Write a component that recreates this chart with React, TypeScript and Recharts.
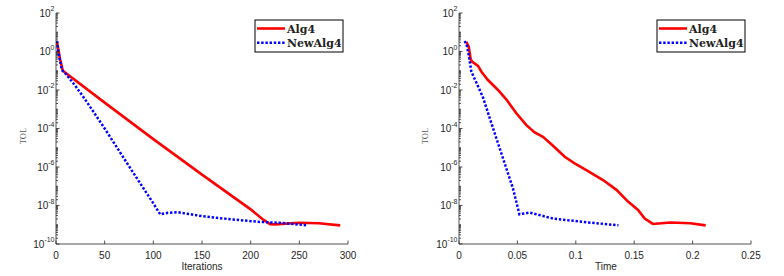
import React from 'react';
import { LineChart, Line, XAxis, YAxis } from 'recharts';

// ---------- data ----------
const iterTicks = [0, 50, 100, 150, 200, 250, 300];
const iterTickLabels = ['0', '50', '100', '150', '200', '250', '300'];
const timeTicks = [0, 0.05, 0.1, 0.15, 0.2, 0.25];
const timeTickLabels = ['0', '0.05', '0.1', '0.15', '0.2', '0.25'];
const tolMajorTicks = [1e-10, 1e-8, 1e-6, 1e-4, 1e-2, 1, 1e2];
const tolMajorExp = ['-10', '-8', '-6', '-4', '-2', '0', '2'];
const seriesNames = ['Alg4', 'NewAlg4'];

const alg4IterX = [1, 4, 7, 50, 100, 150, 200, 212, 220, 225, 250, 270, 292];
const alg4IterTol = [3.2, 0.45, 0.1, 2.2e-3, 2.8e-5, 4.0e-7, 6.3e-9, 2.0e-9, 1.07e-9, 1.05e-9, 1.26e-9, 1.2e-9, 9.3e-10];

const newIterX = [1, 3, 6, 10, 20, 30, 50, 75, 90, 100, 107, 115, 125, 150, 180, 210, 230, 257];
const newIterTol = [3.5, 0.63, 0.11, 0.07, 0.016, 3.2e-3, 1e-4, 1.1e-6, 7.6e-8, 1.3e-8, 3.5e-9, 4.2e-9, 4.5e-9, 2.8e-9, 1.9e-9, 1.4e-9, 1.26e-9, 9.5e-10];

const alg4TimeX = [0.0063, 0.0083, 0.01, 0.0111, 0.0163, 0.0192, 0.0248, 0.0334, 0.0406, 0.0491, 0.0577, 0.0648, 0.0719, 0.0805, 0.0905, 0.099, 0.109, 0.1233, 0.1348, 0.1447, 0.1533, 0.159, 0.166, 0.181, 0.198, 0.2112];
const alg4TimeTol = [3.2, 1.8, 0.4, 0.3, 0.18, 0.089, 0.033, 0.01, 3.2e-3, 6.2e-4, 1.5e-4, 6.3e-5, 3.7e-5, 1.26e-5, 3.4e-6, 1.55e-6, 6.9e-7, 2.1e-7, 6.5e-8, 1.6e-8, 5.9e-9, 2.1e-9, 1.1e-9, 1.3e-9, 1.2e-9, 9.3e-10];

const newTimeX = [0.0049, 0.0068, 0.0083, 0.0106, 0.0149, 0.0205, 0.0277, 0.0334, 0.0391, 0.0462, 0.0517, 0.0605, 0.0805, 0.109, 0.1365];
const newTimeTol = [3.5, 1.95, 0.66, 0.089, 0.024, 4.2e-3, 1.9e-4, 1.7e-5, 1.55e-6, 7.8e-8, 3.5e-9, 4.3e-9, 2.1e-9, 1.35e-9, 9.3e-10];

// ---------- helpers ----------
const zip = (xs: number[], ys: number[]) => xs.map((x, i) => ({ x, y: ys[i] }));

const tolAllTicks: number[] = (() => {
  const out: number[] = [];
  for (let k = -10; k <= 1; k++) {
    for (let m = 1; m <= 9; m++) out.push(Number((m * Math.pow(10, k)).toPrecision(3)));
  }
  out.push(100);
  return out;
})();

const AXIS = '#262626';
const RED = '#ff0000';
const BLUE = '#0000ff';
const SANS = "'Liberation Sans', Arial, Helvetica, sans-serif";
const SERIF = "'Liberation Serif', 'Times New Roman', serif";
const LEGEND_FONT = "'DejaVu Serif', serif";

const majorIndex = (v: number) =>
  tolMajorTicks.findIndex((t) => Math.abs(Math.log10(t) - Math.log10(v)) < 1e-6);

const YTickLeft = (props: any) => {
  const { x, y, payload } = props;
  const idx = majorIndex(payload.value);
  const len = idx >= 0 ? 3.5 : 2;
  return (
    <g>
      <line x1={x} y1={y} x2={x + len} y2={y} stroke={AXIS} strokeWidth={0.8} />
      {idx >= 0 && (
        <text x={x - 1.5} y={y + 3.6} textAnchor="end" fontSize={10} fontFamily={SANS} fill={AXIS}>
          <tspan>10</tspan>
          <tspan dy={-5.5} fontSize={7}>{tolMajorExp[idx]}</tspan>
        </text>
      )}
    </g>
  );
};

const YTickRight = (props: any) => {
  const { x, y, payload } = props;
  const idx = majorIndex(payload.value);
  const len = idx >= 0 ? 3.5 : 2;
  return <line x1={x} y1={y} x2={x - len} y2={y} stroke={AXIS} strokeWidth={0.8} />;
};

const makeXTickBottom = (labels: string[], ticks: number[]) => (props: any) => {
  const { x, y, payload } = props;
  const idx = ticks.findIndex((t) => Math.abs(t - payload.value) < 1e-9);
  return (
    <g>
      <line x1={x} y1={y} x2={x} y2={y - 3.5} stroke={AXIS} strokeWidth={0.8} />
      <text x={x} y={y + 14.6} textAnchor="middle" fontSize={10} fontFamily={SANS} fill={AXIS}>
        {idx >= 0 ? labels[idx] : ''}
      </text>
    </g>
  );
};

const XTickTop = (props: any) => {
  const { x, y } = props;
  return <line x1={x} y1={y} x2={x} y2={y + 3.5} stroke={AXIS} strokeWidth={0.8} />;
};

type PanelProps = {
  xTicks: number[];
  xLabels: string[];
  xDomain: [number, number];
  yAxisWidth: number;
  rightMargin: number;
  alg4: { x: number; y: number }[];
  newAlg4: { x: number; y: number }[];
};

const Panel = ({ xTicks, xLabels, xDomain, yAxisWidth, rightMargin, alg4, newAlg4 }: PanelProps) => {
  const XTickBottom = makeXTickBottom(xLabels, xTicks);
  return (
    <LineChart width={392} height={276} margin={{ top: 13, right: rightMargin, bottom: 0, left: 0 }}>
      <XAxis
        xAxisId="b"
        type="number"
        dataKey="x"
        domain={xDomain}
        ticks={xTicks}
        interval={0}
        allowDataOverflow
        height={32}
        tickSize={0}
        tickMargin={0}
        tickLine={false}
        axisLine={{ stroke: AXIS, strokeWidth: 0.8 }}
        tick={XTickBottom}
      />
      <XAxis
        xAxisId="t"
        orientation="top"
        type="number"
        dataKey="x"
        domain={xDomain}
        ticks={xTicks}
        interval={0}
        allowDataOverflow
        height={0}
        tickSize={0}
        tickMargin={0}
        tickLine={false}
        axisLine={{ stroke: AXIS, strokeWidth: 0.8 }}
        tick={XTickTop}
      />
      <YAxis
        yAxisId="l"
        type="number"
        scale="log"
        domain={[1e-10, 100]}
        ticks={tolAllTicks}
        interval={0}
        allowDataOverflow
        width={yAxisWidth}
        tickSize={0}
        tickMargin={0}
        tickLine={false}
        axisLine={{ stroke: AXIS, strokeWidth: 0.8 }}
        tick={YTickLeft}
      />
      <YAxis
        yAxisId="r"
        orientation="right"
        type="number"
        scale="log"
        domain={[1e-10, 100]}
        ticks={tolAllTicks}
        interval={0}
        allowDataOverflow
        width={0}
        tickSize={0}
        tickMargin={0}
        tickLine={false}
        axisLine={{ stroke: AXIS, strokeWidth: 0.8 }}
        tick={YTickRight}
      />
      <Line
        xAxisId="b"
        yAxisId="l"
        data={alg4}
        dataKey="y"
        type="linear"
        stroke={RED}
        strokeWidth={2.6}
        dot={false}
        activeDot={false}
        isAnimationActive={false}
        name={seriesNames[0]}
      />
      <Line
        xAxisId="b"
        yAxisId="l"
        data={newAlg4}
        dataKey="y"
        type="linear"
        stroke={BLUE}
        strokeWidth={2.5}
        strokeDasharray="2.4 1.8"
        dot={false}
        activeDot={false}
        isAnimationActive={false}
        name={seriesNames[1]}
      />
    </LineChart>
  );
};

const LegendBox = ({ x, y, lineX }: { x: number; y: number; lineX: number }) => (
  <g>
    <rect x={x} y={y} width={88} height={32} fill="#fff" stroke="#000" strokeWidth={1} />
    <line x1={lineX} y1={y + 8.5} x2={lineX + 28} y2={y + 8.5} stroke={RED} strokeWidth={2.6} />
    <text x={lineX + 30} y={y + 12.5} fontSize={11} fontWeight="bold" fontFamily={LEGEND_FONT} fill="#222">
      {seriesNames[0]}
    </text>
    <line x1={lineX} y1={y + 22.7} x2={lineX + 28} y2={y + 22.7} stroke={BLUE} strokeWidth={2.5} strokeDasharray="2.4 1.8" />
    <text x={lineX + 30} y={y + 26.5} fontSize={11} fontWeight="bold" fontFamily={LEGEND_FONT} fill="#222">
      {seriesNames[1]}
    </text>
  </g>
);

export default function App() {
  return (
    <div style={{ position: 'absolute', left: 0, top: 0, width: 784, height: 276, background: '#fff', overflow: 'hidden' }}>
      <div style={{ position: 'absolute', left: 0, top: 0 }}>
        <Panel
          xTicks={iterTicks}
          xLabels={iterTickLabels}
          xDomain={[0, 300]}
          yAxisWidth={56}
          rightMargin={44}
          alg4={zip(alg4IterX, alg4IterTol)}
          newAlg4={zip(newIterX, newIterTol)}
        />
      </div>
      <div style={{ position: 'absolute', left: 392, top: 0 }}>
        <Panel
          xTicks={timeTicks}
          xLabels={timeTickLabels}
          xDomain={[0, 0.25]}
          yAxisWidth={67}
          rightMargin={33}
          alg4={zip(alg4TimeX, alg4TimeTol)}
          newAlg4={zip(newTimeX, newTimeTol)}
        />
      </div>
      <svg width={784} height={276} style={{ position: 'absolute', left: 0, top: 0, pointerEvents: 'none' }}>
        <text x={202} y={269.5} textAnchor="middle" fontSize={10} fontFamily={SANS} fill={AXIS}>Iterations</text>
        <text x={606} y={269.5} textAnchor="middle" fontSize={10} fontFamily={SANS} fill={AXIS}>Time</text>
        <text transform="translate(26,136) rotate(-90)" textAnchor="middle" fontSize={8.5} fontFamily={SERIF} fill="#555">TOL</text>
        <text transform="translate(428,136) rotate(-90)" textAnchor="middle" fontSize={8.5} fontFamily={SERIF} fill="#555">TOL</text>
        <LegendBox x={255} y={20} lineX={257} />
        <LegendBox x={657} y={20} lineX={659} />
      </svg>
    </div>
  );
}
